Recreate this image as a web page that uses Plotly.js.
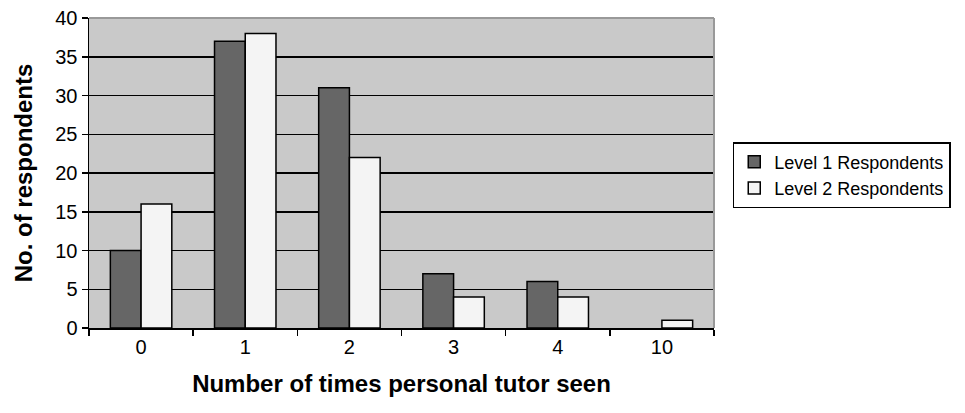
<!DOCTYPE html>
<html>
<head>
<meta charset="utf-8">
<script src="https://cdn.plot.ly/plotly-3.0.1.min.js"></script>
<style>html,body{margin:0;padding:0;background:#fff;}#chart{width:965px;height:413px;}</style>
</head>
<body>
<div id="chart"></div>
<script>
const categories = ["0", "1", "2", "3", "4", "10"];
const level1 = [10, 37, 31, 7, 6, 0];
const level2 = [16, 38, 22, 4, 4, 1];
const seriesNames = ["Level 1 Respondents", "Level 2 Respondents"];
const yTicks = [0, 5, 10, 15, 20, 25, 30, 35, 40];

const font = "Liberation Sans, Arial, sans-serif";
const outline = v => v.map(d => d === 0 ? 0 : 1.5);
const traces = [
  {type: "bar", name: seriesNames[0], x: categories, y: level1,
   marker: {color: "#666666", line: {color: "#000", width: outline(level1)}}},
  {type: "bar", name: seriesNames[1], x: categories, y: level2,
   marker: {color: "#f4f4f4", line: {color: "#000", width: outline(level2)}}}
];
const layout = {
  width: 965, height: 413,
  margin: {l: 89, r: 251, t: 18, b: 85},
  paper_bgcolor: "#ffffff",
  plot_bgcolor: "#c9c9c9",
  barmode: "group", bargap: 0.41, bargroupgap: 0,
  font: {family: font, color: "#000", size: 20},
  xaxis: {
    type: "category", tickson: "boundaries", ticks: "outside", ticklen: 6, tickwidth: 1.5, tickcolor: "#000",
    showline: true, linecolor: "#000", linewidth: 1.5, showgrid: false,
    tickfont: {size: 20, family: font},
    title: {text: "<b>Number of times personal tutor seen</b>", font: {size: 24, family: font}, standoff: 18}
  },
  yaxis: {
    range: [0, 40], tickvals: yTicks, ticks: "outside", ticklen: 6, tickwidth: 1.5, tickcolor: "#000",
    showline: true, linecolor: "#000", linewidth: 1.5,
    showgrid: true, gridcolor: "#000", gridwidth: 1.5, zeroline: false,
    tickfont: {size: 20, family: font},
    title: {text: "<b>No. of respondents</b>", font: {size: 24, family: font}, standoff: 16}
  },
  legend: {
    x: 1.03, y: 0.6, xanchor: "left", yanchor: "top",
    bgcolor: "#fff", bordercolor: "#000", borderwidth: 1.5,
    font: {size: 18, family: font}, itemwidth: 30, tracegroupgap: 0
  },
  shapes: [
    {type: "line", xref: "paper", yref: "paper", x0: 0, x1: 1, y0: 1, y1: 1, line: {color: "#999", width: 2}},
    {type: "line", xref: "paper", yref: "paper", x0: 1, x1: 1, y0: 0, y1: 1, line: {color: "#999", width: 2}}
  ],
  showlegend: true
};
Plotly.newPlot("chart", traces, layout, {displayModeBar: false, staticPlot: true});
</script>
</body>
</html>
